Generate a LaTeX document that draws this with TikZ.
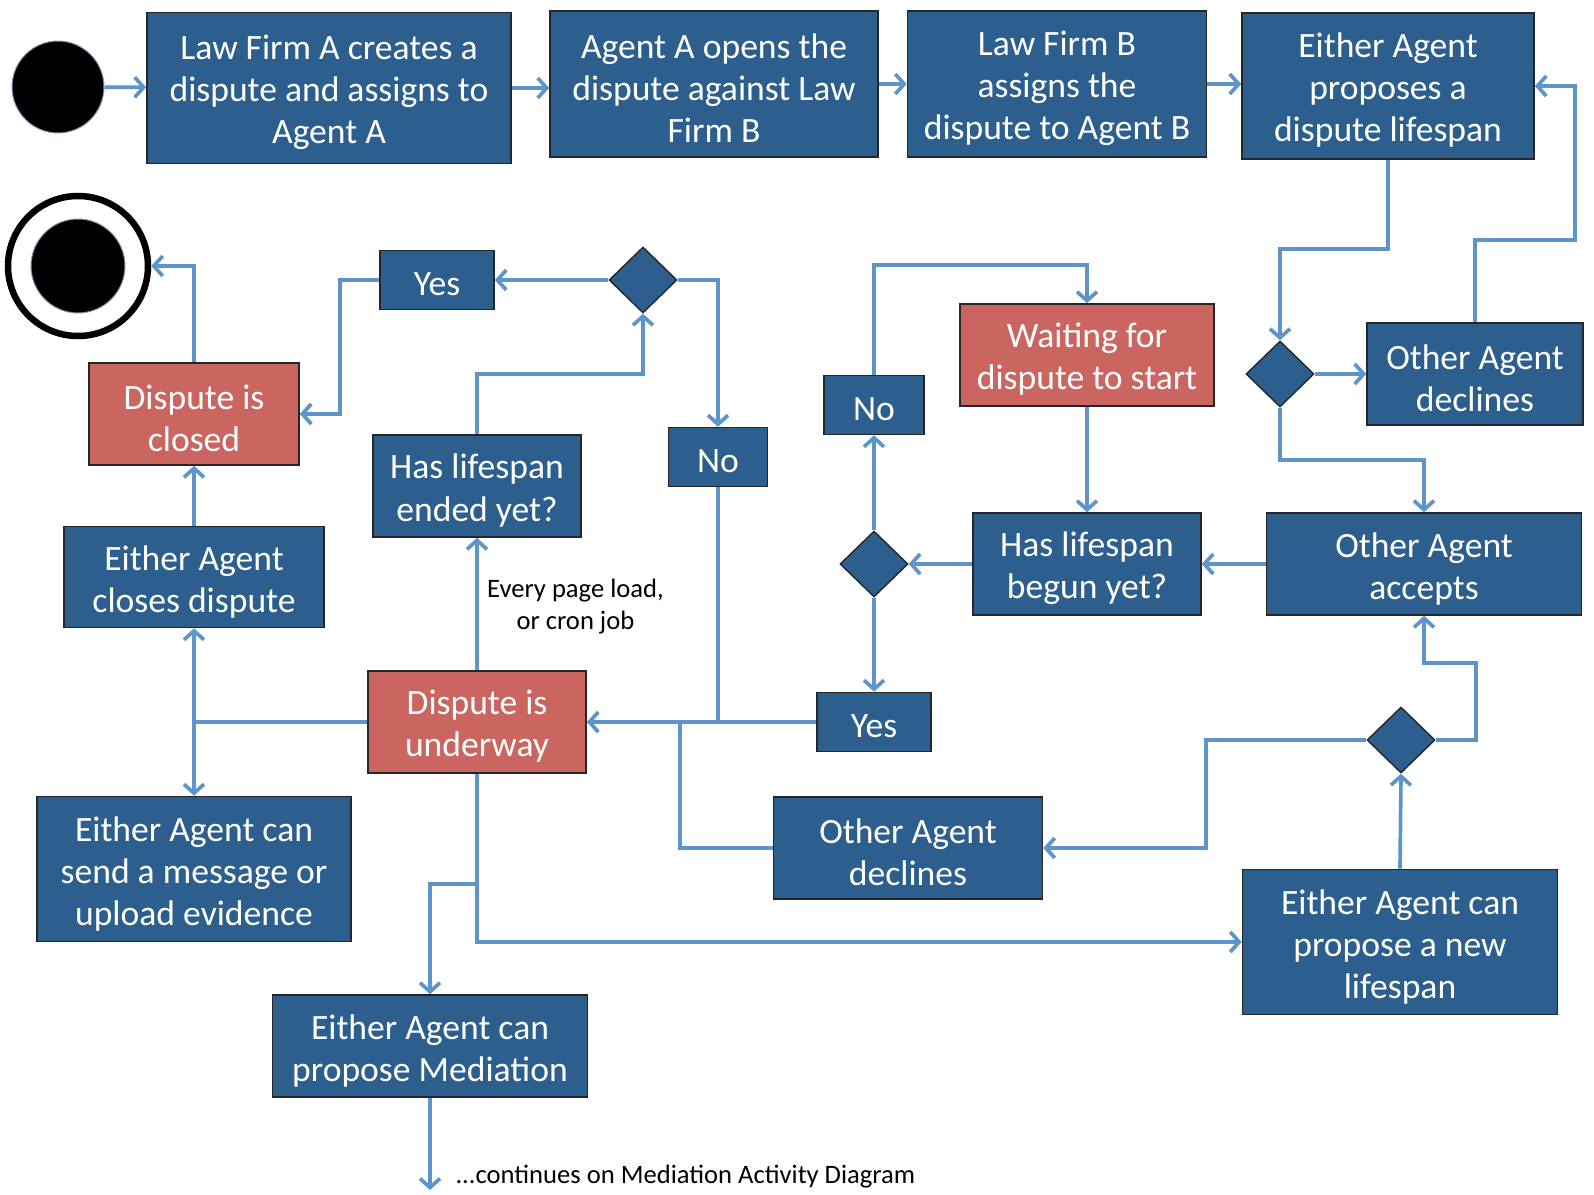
\documentclass[tikz,border=0pt]{standalone}
\usepackage{fontspec}
\setmainfont{Carlito}
\usetikzlibrary{arrows.meta,shapes.geometric,positioning}
\definecolor{boxblue}{RGB}{44,94,142}
\definecolor{boxred}{RGB}{203,101,96}
\definecolor{flow}{RGB}{94,148,204}

\begin{document}
\begin{tikzpicture}[x=1pt,y=-1pt,
  blk/.style={draw=black!85,line width=1.6pt,fill=boxblue,inner sep=0pt},
  redblk/.style={blk,fill=boxred},
  blktext/.style={text=white,align=center,inner sep=0pt,yshift=-4.5pt,font=\fontsize{35.6}{42}\selectfont},
  choice/.style={diamond,draw=black!85,line width=1.4pt,fill=boxblue,minimum width=68,minimum height=66,inner sep=0pt},
  flowline/.style={draw=flow,line width=3.7pt},
  arr/.style={flowline,-{Straight Barb[length=9pt,width=20pt]}},
  smalltxt/.style={align=center,font=\fontsize{26.6}{32}\selectfont}]
%\draw[help lines] (0,0) grid[step=100] (1594,1194);
\useasboundingbox (0,0) rectangle (1594,1194);
%
\node[circle,fill=black,draw=boxblue!60,line width=1pt,minimum size=92,inner sep=0] (start) at (58,87) {};
\node[circle,draw=black,line width=6.5pt,fill=white,minimum size=140,inner sep=0] (endc) at (78,266) {};
\node[circle,fill=black,draw=boxblue!60,line width=1pt,minimum size=94,inner sep=0] (endin) at (78,266) {};
%
\node[blk,minimum width=364,minimum height=151,label={[blktext]center:Law Firm A creates a\\dispute and assigns to\\Agent A}] (create) at (329,88) {};
\node[blk,minimum width=328,minimum height=146,label={[blktext]center:Agent A opens the\\dispute against Law\\Firm B}] (open) at (714,84) {};
\node[blk,minimum width=299,minimum height=146,label={[blktext]center:Law Firm B\\assigns the\\dispute to Agent B}] (assignB) at (1057,84) {};
\node[blk,minimum width=292,minimum height=146,label={[blktext]center:Either Agent\\proposes a\\dispute lifespan}] (propose) at (1388,86) {};
%
\node[choice] (dR) at (1280,374) {};
\node[blk,minimum width=216,minimum height=102,label={[blktext]center:Other Agent\\declines}] (declR) at (1475,374) {};
\node[blk,minimum width=315,minimum height=102,label={[blktext]center:Other Agent\\accepts}] (accepts) at (1424,564) {};
\node[redblk,minimum width=254,minimum height=102,label={[blktext]center:Waiting for\\dispute to start}] (waiting) at (1087,355) {};
\node[blk,minimum width=228,minimum height=102,label={[blktext]center:Has lifespan\\begun yet?}] (begun) at (1087,564) {};
\node[choice] (dM) at (874,564) {};
\node[blk,minimum width=100,minimum height=59,label={[blktext]center:No}] (noM) at (874,405) {};
\node[blk,minimum width=114,minimum height=59,label={[blktext]center:Yes}] (yesM) at (874,722) {};
%
\node[redblk,minimum width=218,minimum height=102,label={[blktext]center:Dispute is\\underway}] (underway) at (477,722) {};
\node[blk,minimum width=208,minimum height=102,label={[blktext]center:Has lifespan\\ended yet?}] (ended) at (477,486) {};
\node[choice] (dT) at (643,280) {};
\node[blk,minimum width=114,minimum height=59,label={[blktext]center:Yes}] (yesT) at (437,280) {};
\node[blk,minimum width=99,minimum height=59,label={[blktext]center:No}] (noL) at (718,457) {};
\node[redblk,minimum width=210,minimum height=102,label={[blktext]center:Dispute is\\closed}] (closed) at (194,414) {};
\node[blk,minimum width=260,minimum height=101,label={[blktext]center:Either Agent\\closes dispute}] (closes) at (194,577) {};
\node[blk,minimum width=314,minimum height=145,label={[blktext]center:Either Agent can\\send a message or\\upload evidence}] (message) at (194,869) {};
\node[blk,minimum width=315,minimum height=102,label={[blktext]center:Either Agent can\\propose Mediation}] (mediation) at (430,1046) {};
\node[blk,minimum width=269,minimum height=102,label={[blktext]center:Other Agent\\declines}] (declB) at (908,848) {};
\node[choice] (dB) at (1401,740) {};
\node[blk,minimum width=315,minimum height=145,label={[blktext]center:Either Agent can\\propose a new\\lifespan}] (newspan) at (1400,942) {};
%
\coordinate (k1) at (1280,249);
\coordinate (k2) at (1575,240);
\coordinate (k3) at (1280,460);
\coordinate (k4) at (874,265);
\coordinate (k5) at (680,722);
\coordinate (k6) at (643,374);
\coordinate (k7) at (340,280);
\coordinate (k8) at (194,722);
\coordinate (k9) at (477,884);
\coordinate (k10) at (1206,740);
\coordinate (k11) at (1476,663);
\coordinate (contd) at (430,1190);
%
\draw[arr] (start) -- (create);
\draw[arr] (create.east) -- (create.east -| open.west);
\draw[arr] (open) -- (assignB);
\draw[arr] (assignB.east) -- (assignB.east -| propose.west);
\draw[arr] (propose.south) |- (k1) -- (dR.north);
\draw[arr] (dR.east) -- (declR.west);
\draw[arr] (declR.north) |- (k2) |- (propose.east);
\draw[arr] (dR.south) -- (k3) -| (accepts.north);
\draw[arr] (accepts.west) -- (begun.east);
\draw[arr] (begun.west) -- (dM.east);
\draw[arr] (dM.north) -- (noM.south);
\draw[arr] (noM.north) -- (k4) -| (waiting.north);
\draw[arr] (waiting.south) -- (begun.north);
\draw[arr] (dM.south) -- (yesM.north);
\draw[arr] (yesM.west) -- (underway.east);
\draw[arr] (dT.east) -| (noL.north);
\draw[flowline] (noL.south) -- (noL.south |- underway.east);
\draw[flowline] (declB.west) -| (k5);
\draw[arr] (underway.north) -- (ended.south)
  node[smalltxt,right=5pt,pos=.5,yshift=-3pt] {Every page load,\\or cron job};
\draw[arr] (ended.north) |- (k6) -- (dT.south);
\draw[arr] (dT.west) -- (yesT.east);
\draw[arr] (yesT.west) -- (k7) |- (closed.east);
\draw[arr] (closed.north) |- (endc.east);
\draw[arr] (closes.north) -- (closed.south);
\draw[flowline] (underway.west) -- (k8);
\draw[arr] (k8) -- (closes.south);
\draw[arr] (k8) -- (message.north);
\draw[arr] (underway.south) |- (newspan.west);
\draw[arr] (k9) -| (mediation.north);
\draw[arr] (mediation.south) -- (contd);
\node[smalltxt,anchor=west] (cont) at (452,1177) {...continues on Mediation Activity Diagram};
\draw[arr] (newspan.north) -- (dB.south);
\draw[arr] (dB.west) -- (k10) |- (declB.east);
\draw[arr] (dB.east) -| (k11) -| (accepts.south);
%
\end{tikzpicture}
\end{document}
